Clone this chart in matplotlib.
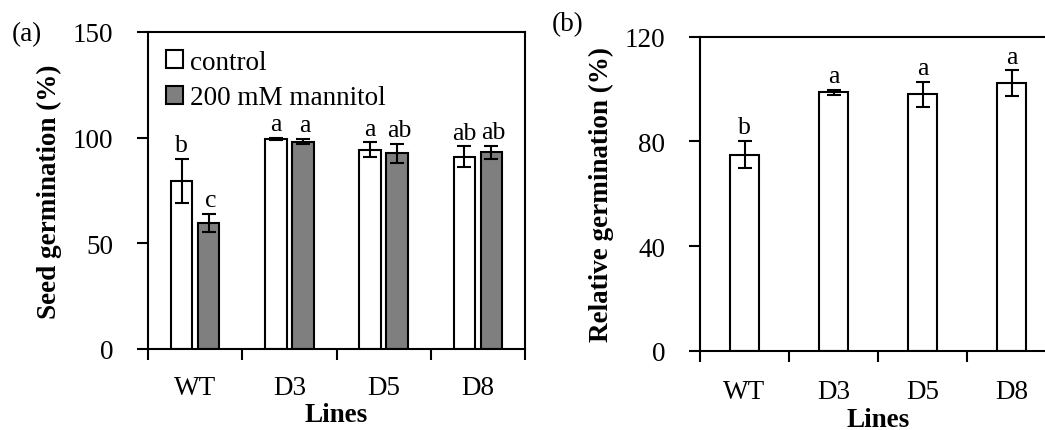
import matplotlib
matplotlib.use("Agg")
import matplotlib.pyplot as plt
import numpy as np
from matplotlib.patches import Patch

lines = ["WT", "D3", "D5", "D8"]

# panel (a): seed germination (%)
control = [79.7, 99.4, 94.3, 90.9]
control_err = [10.4, 0.5, 3.5, 5.0]
mannitol = [59.8, 98.1, 92.6, 93.0]
mannitol_err = [4.3, 1.3, 4.4, 3.2]
control_letters = ["b", "a", "a", "ab"]
mannitol_letters = ["c", "a", "ab", "ab"]

# panel (b): relative germination (%)
relative = [75.0, 98.7, 98.0, 102.3]
relative_err = [5.3, 1.1, 4.8, 4.8]
relative_letters = ["b", "a", "a", "a"]

plt.rcParams["font.family"] = ["Liberation Serif", "DejaVu Serif"]
FS = 19.5
LW = 1.5

fig = plt.figure(figsize=(10.45, 4.31), dpi=100)
ax1 = fig.add_axes([148 / 1045, 81 / 431, 377 / 1045, 317 / 431])
ax2 = fig.add_axes([700 / 1045, 79 / 431, 356 / 1045, 314.3 / 431])

x = np.arange(len(lines))


def style_axes(ax, ymax, yticks, ylabel, xpad, xlabelpad):
    ax.set_xlim(-0.5, len(lines) - 0.5)
    ax.set_ylim(0, ymax)
    ax.set_yticks(yticks)
    ax.set_xticks(x)
    ax.set_xticklabels(lines, fontsize=FS)
    ax.set_xticks(np.arange(len(lines) + 1) - 0.5, minor=True)
    ax.tick_params(axis="x", which="major", length=0, pad=xpad)
    ax.tick_params(axis="x", which="minor", length=8, width=LW, direction="out")
    ax.tick_params(axis="y", length=8, width=LW, direction="out", pad=17,
                   labelsize=FS)
    for s in ax.spines.values():
        s.set_linewidth(LW)
    ax.set_xlabel("Lines", fontsize=FS, fontweight="bold", labelpad=xlabelpad)
    ax.set_ylabel(ylabel, fontsize=FS, fontweight="bold", labelpad=8)


def add_letters(ax, xs, vals, errs, letters, dx=0):
    for xi, v, e, t in zip(xs, vals, errs, letters):
        ax.annotate(t, (xi, v + e), xytext=(dx, 2), textcoords="offset points",
                    ha="center", va="bottom", fontsize=18.5)


# panel (a)
w = 0.228
off = 0.143
err_kw = dict(ecolor="black", elinewidth=LW, capsize=5, capthick=LW)
ax1.bar(x - off, control, w, yerr=control_err, color="white",
        edgecolor="black", linewidth=LW, error_kw=err_kw, zorder=2)
ax1.bar(x + off, mannitol, w, yerr=mannitol_err, color="#7f7f7f",
        edgecolor="black", linewidth=LW, error_kw=err_kw, zorder=2)
add_letters(ax1, x - off, control, control_err, control_letters)
add_letters(ax1, x + off, mannitol, mannitol_err, mannitol_letters, dx=1.5)
style_axes(ax1, 150, [0, 50, 100, 150], "Seed germination (%)", 19, 1)

handles = [Patch(facecolor="white", edgecolor="black", linewidth=LW),
           Patch(facecolor="#7f7f7f", edgecolor="black", linewidth=LW)]
ax1.legend(handles, ["control", "200 mM mannitol"], loc="upper left",
           bbox_to_anchor=(0.0, 1.0), frameon=False, fontsize=FS,
           handlelength=0.65, handleheight=0.65, handletextpad=0.25,
           labelspacing=0.4, borderaxespad=0.25)

# panel (b)
ax2.bar(x, relative, 0.315, yerr=relative_err, color="white",
        edgecolor="black", linewidth=LW, error_kw=err_kw, zorder=2)
add_letters(ax2, x, relative, relative_err, relative_letters)
style_axes(ax2, 120, [0, 40, 80, 120], "Relative germination (%)", 20, 2)

fig.text(12 / 1045, 1 - 35 / 431, "(a)", fontsize=FS, va="center", ha="left")
fig.text(552 / 1045, 1 - 25 / 431, "(b)", fontsize=FS, va="center", ha="left")

fig.savefig("out.png", dpi=100)
